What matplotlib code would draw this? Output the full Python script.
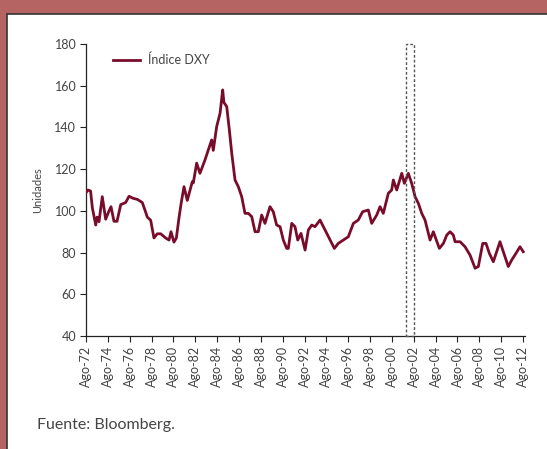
import matplotlib
matplotlib.use("Agg")
import matplotlib.pyplot as plt
from matplotlib.patches import Rectangle

# ---- data (decimal year, index value) ----
years = [1972.62, 1972.75, 1973.0, 1973.16, 1973.47, 1973.6, 1973.77, 1974.07, 1974.38, 1974.69,
         1974.87, 1975.14, 1975.42, 1975.76, 1976.0, 1976.21, 1976.52, 1976.9, 1977.28, 1977.73,
         1978.0, 1978.19, 1978.5, 1978.8, 1979.1, 1979.42, 1979.87, 1980.18, 1980.36, 1980.63,
         1980.85, 1981.09, 1981.3, 1981.55, 1981.85, 1982.1, 1982.31, 1982.4, 1982.71, 1983.01,
         1983.47, 1983.77, 1984.08, 1984.23, 1984.54, 1984.85, 1985.09, 1985.2, 1985.46, 1985.7,
         1985.92, 1986.22, 1986.52, 1986.83, 1987.13, 1987.44, 1987.75, 1988.05, 1988.35, 1988.66,
         1988.96, 1989.42, 1989.72, 1990.03, 1990.34, 1990.64, 1990.95, 1991.1, 1991.41, 1991.71,
         1991.96, 1992.26, 1992.63, 1992.93, 1993.24, 1993.54, 1994.0, 1994.46, 1994.76, 1995.31,
         1995.67, 1996.13, 1996.59, 1997.05, 1997.5, 1997.9, 1998.42, 1998.73, 1999.19, 1999.49,
         1999.79, 2000.25, 2000.56, 2000.71, 2001.02, 2001.48, 2001.72, 2002.08, 2002.39, 2002.7,
         2003.0, 2003.31, 2003.61, 2004.07, 2004.37, 2004.92, 2005.29, 2005.6, 2005.9, 2006.2,
         2006.36, 2006.82, 2007.27, 2007.73, 2008.19, 2008.49, 2008.89, 2009.19, 2009.5, 2009.86,
         2010.17, 2010.47, 2010.77, 2010.93, 2011.23, 2011.54, 2011.93, 2012.3, 2012.6]
values = [109.0, 110.0, 109.5, 101.5, 93.2, 97.0, 94.8, 106.8, 96.0, 100.0,
          102.0, 95.0, 95.0, 103.0, 103.5, 104.0, 107.0, 106.0, 105.5, 104.0,
          100.0, 97.0, 95.5, 87.0, 89.0, 89.0, 87.0, 86.0, 90.0, 85.0,
          87.0, 96.6, 104.0, 111.6, 105.0, 110.0, 114.0, 113.4, 122.9, 118.0,
          124.4, 129.2, 134.0, 129.0, 140.4, 146.8, 158.0, 152.0, 150.0, 138.8,
          127.6, 114.8, 111.6, 106.8, 98.8, 98.8, 97.2, 90.0, 90.0, 98.0,
          94.0, 102.0, 99.6, 93.2, 92.4, 86.0, 82.0, 82.0, 94.0, 92.4,
          86.0, 89.2, 81.2, 90.8, 93.2, 92.4, 95.6, 90.8, 87.6, 82.0,
          84.4, 86.0, 87.6, 94.0, 95.6, 99.6, 100.4, 94.0, 98.0, 102.0,
          98.8, 108.4, 110.0, 114.8, 110.0, 118.0, 113.2, 118.0, 113.2, 106.8,
          103.6, 98.8, 95.6, 86.0, 90.0, 82.0, 84.4, 88.4, 90.0, 88.4,
          85.2, 85.2, 82.8, 78.8, 72.5, 73.3, 84.4, 84.4, 79.6, 75.6,
          80.4, 85.2, 80.4, 78.0, 73.3, 76.4, 79.6, 82.8, 80.4]
tick_years = [1972.58 + 2 * i for i in range(21)]
tick_labels = ["Ago-%02d" % ((72 + 2 * i) % 100) for i in range(21)]
y_ticks = [40, 60, 80, 100, 120, 140, 160, 180]
box_start, box_end = 2001.87, 2002.60

plt.rcParams['font.family'] = ['Lato', 'DejaVu Sans']
W, H = 547, 449
fig = plt.figure(figsize=(W / 100, H / 100), dpi=100)
fig.patch.set_facecolor('#b56363')
# white inner panel
fig.patches.append(Rectangle((7 / W, -0.1), 1.2, 1.1 - 14 / H, transform=fig.transFigure,
                             facecolor='white', edgecolor='#333333', linewidth=1.2,
                             zorder=-10))

ax = fig.add_axes([86 / W, 1 - 336 / H, (525 - 86) / W, (336 - 44) / H])
ax.patch.set_alpha(0)
ax.plot(years, values, color='#7a0c2b', linewidth=2.0, label='Índice DXY', zorder=3)

ax.set_xlim(1972.58, 2012.76)
ax.set_ylim(40, 180)
ax.set_yticks(y_ticks)
ax.set_xticks(tick_years)
ax.set_xticklabels(tick_labels, rotation=90)
for s in ['top', 'right']:
    ax.spines[s].set_visible(False)
for s in ['left', 'bottom']:
    ax.spines[s].set_color('#222222')
    ax.spines[s].set_linewidth(0.9)
ax.tick_params(axis='both', direction='out', length=4, width=0.8, color='#222222',
               labelsize=9, labelcolor='#444444', pad=3)
ax.set_ylabel('Unidades', fontsize=8, color='#444444', labelpad=8)

ax.add_patch(Rectangle((box_start, 40), box_end - box_start, 140, fill=False,
                       edgecolor='#555555', linestyle=(0, (2, 1.5)), linewidth=1.0,
                       clip_on=False, zorder=4))

leg = ax.legend(loc='upper left', bbox_to_anchor=(0.05, 0.985), frameon=False,
                fontsize=9, handlelength=2.2, handletextpad=0.6, borderaxespad=0)
for t in leg.get_texts():
    t.set_color('#444444')

fig.text(37 / W, 1 - 425 / H, 'Fuente: Bloomberg.', fontsize=11.5, color='#444444',
         va='center', ha='left')

fig.savefig('out.png', dpi=100)
